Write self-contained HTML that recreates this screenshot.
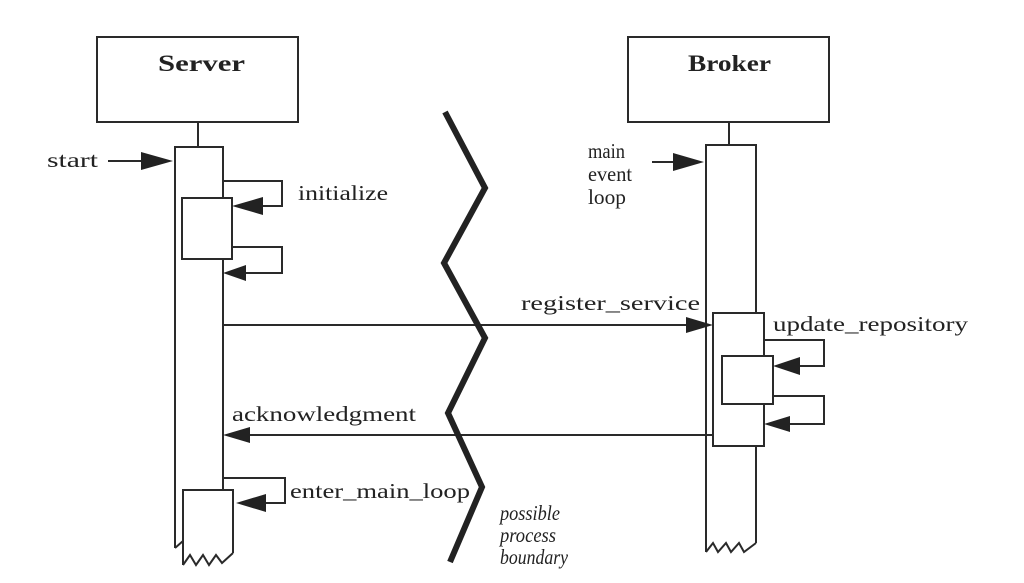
<!DOCTYPE html>
<html><head><meta charset="utf-8"><style>
html,body{margin:0;padding:0;background:#fff;}
svg{display:block;}
text{font-family:"Liberation Serif",serif;fill:#222;}
</style></head><body>
<svg width="1024" height="583" viewBox="0 0 1024 583" xmlns="http://www.w3.org/2000/svg">
<g stroke="#2a2a2a" stroke-width="2" fill="none">
<rect x="97" y="37" width="201" height="85" fill="#fff"/>
<line x1="198" y1="122" x2="198" y2="147"/>
<polyline points="175,548 175,147 223,147 223,490"/>
<polyline points="175,548 183,541"/>
<rect x="182" y="198" width="50" height="61" fill="#fff"/>
<polyline points="223,181 282,181 282,206 262,206"/>
<polyline points="232,247 282,247 282,273 245,273"/>
<line x1="108" y1="161" x2="145" y2="161"/>
<polyline points="183,565 183,490 233,490 233,553"/>
<polyline points="183,565 190,555 196,565 203,555 209,565 216,555 222,563 233,553"/>
<polyline points="223,478 285,478 285,503 260,503"/>
<rect x="628" y="37" width="201" height="85" fill="#fff"/>
<line x1="729" y1="122" x2="729" y2="145"/>
<polyline points="706,552 706,145 756,145 756,543"/>
<polyline points="706,552 713,543 718,552 726,543 731,552 739,543 744,552 756,543"/>
<rect x="713" y="313" width="51" height="133" fill="#fff"/>
<rect x="722" y="356" width="51" height="48" fill="#fff"/>
<polyline points="764,340 824,340 824,366 795,366"/>
<polyline points="773,396 824,396 824,424 787,424"/>
<line x1="652" y1="162" x2="676" y2="162"/>
<line x1="223" y1="325" x2="690" y2="325"/>
<line x1="713" y1="435" x2="250" y2="435"/>
</g>
<g fill="#222">
<polygon points="173,161 141,152 141,170"/>
<polygon points="232,206 263,197 263,215"/>
<polygon points="223,273 246,265 246,281"/>
<polygon points="236,503 266,494 266,512"/>
<polygon points="704,162 673,153 673,171"/>
<polygon points="713,325 686,317 686,333"/>
<polygon points="223,435 250,427 250,443"/>
<polygon points="773,366 800,357 800,375"/>
<polygon points="764,424 790,416 790,432"/>
</g>
<polyline points="445,112 485,188 444,263 485,338 448,413 482,487 450,562" stroke="#222" stroke-width="6" fill="none"/>
<text x="158" y="71" font-size="23" font-weight="bold" textLength="87" lengthAdjust="spacingAndGlyphs">Server</text>
<text x="688" y="71" font-size="23" font-weight="bold" textLength="83" lengthAdjust="spacingAndGlyphs">Broker</text>
<g font-size="21">
<text x="47" y="167" textLength="51" lengthAdjust="spacingAndGlyphs">start</text>
<text x="298" y="200" textLength="90" lengthAdjust="spacingAndGlyphs">initialize</text>
<text x="588" y="158" textLength="37" lengthAdjust="spacingAndGlyphs">main</text>
<text x="588" y="181" textLength="44" lengthAdjust="spacingAndGlyphs">event</text>
<text x="588" y="204" textLength="38" lengthAdjust="spacingAndGlyphs">loop</text>
<text x="521" y="310" textLength="179" lengthAdjust="spacingAndGlyphs">register_service</text>
<text x="773" y="331" textLength="195" lengthAdjust="spacingAndGlyphs">update_repository</text>
<text x="232" y="421" textLength="184" lengthAdjust="spacingAndGlyphs">acknowledgment</text>
<text x="290" y="498" textLength="180" lengthAdjust="spacingAndGlyphs">enter_main_loop</text>
<text x="500" y="520" font-style="italic" textLength="60" lengthAdjust="spacingAndGlyphs">possible</text>
<text x="500" y="542" font-style="italic" textLength="56" lengthAdjust="spacingAndGlyphs">process</text>
<text x="500" y="564" font-style="italic" textLength="68" lengthAdjust="spacingAndGlyphs">boundary</text>
</g>
</svg>
</body></html>
